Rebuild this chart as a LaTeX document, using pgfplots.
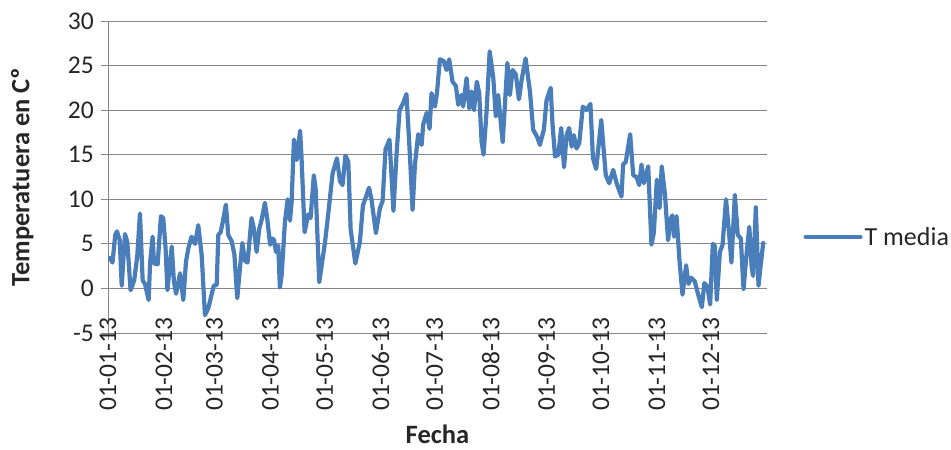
\documentclass[border=0pt]{standalone}
\usepackage{fontspec}
\setmainfont{Carlito}
\usepackage{pgfplots}
\pgfplotsset{compat=1.18}
\definecolor{serie}{RGB}{74,126,187}
\definecolor{rejilla}{RGB}{134,134,134}
\begin{document}
\begin{tikzpicture}
\path[use as bounding box] (0,0) rectangle (951pt,450pt);
\begin{axis}[
  at={(108pt,117pt)}, anchor=south west,
  scale only axis, width=659pt, height=312pt,
  xmin=0, xmax=365, ymin=-5, ymax=30,
  axis lines*=left,
  axis line style={rejilla, line width=1pt},
  ytick={-5,0,5,10,15,20,25,30},
  yticklabels={-5,0,5,10,15,20,25,30},
  xtick={0,31,59,90,120,151,181,212,243,273,304,334},
  xticklabels={01-01-13,01-02-13,01-03-13,01-04-13,01-05-13,01-06-13,01-07-13,01-08-13,01-09-13,01-10-13,01-11-13,01-12-13},
  ymajorgrids, grid style={rejilla, line width=1pt},
  tick align=outside, major tick length=7pt,
  tick style={rejilla, line width=1pt},
  tick label style={font=\fontsize{25.5}{30}\selectfont, text=black!85},
  xticklabel style={rotate=90, anchor=east, inner sep=0pt, xshift=1.5pt},
  xticklabel shift={-21pt},
  yticklabel style={inner sep=0pt},
  yticklabel shift={7pt},
  xlabel={Fecha}, ylabel={Temperatuera en Cº},
  label style={font=\bfseries\fontsize{26.5}{30}\selectfont, text=black!85},
  xlabel style={at={(axis description cs:0.5,-0.325)}, anchor=center},
  ylabel style={at={(axis description cs:-0.130,0.5)}, anchor=center},
  legend style={at={(axis description cs:1.055,0.308)}, anchor=west, draw=none, fill=none,
    font=\fontsize{26}{30}\selectfont, text=black!85, inner sep=0pt},
  legend image code/.code={\draw[#1, line width=4.2pt] (0pt,0pt) -- (55pt,0pt);},
]
\addplot[serie, line width=4.2pt, line join=round, line cap=round] coordinates {
(1,3.4) (2.5,2.9) (4,6.0) (5,6.4) (6.5,5.4) (7.6,0.3) (9.4,6.1) (10.7,5.2) (12.5,-0.2)
(14.5,0.9) (16.2,3.6) (17.7,8.4) (19.2,0.9) (20.5,0.5) (22.5,-1.3) (23.3,2.8) (24.7,5.8)
(25.5,2.8) (27.5,2.7) (29.3,8.1) (30.6,7.9) (31.9,4.5) (32.9,-0.2) (35.3,4.7) (36.5,0.8)
(37.7,-0.6) (39.9,1.7) (41.7,-1.3) (43.2,3.0) (44.5,4.5) (46.3,5.8) (48.2,5.0) (50.0,7.1)
(51.9,3.7) (53.7,-3.0) (55.6,-2.2) (57.6,-0.5) (58.6,0.3) (60.2,0.4) (61.1,6.0) (62.4,6.3)
(63.5,7.4) (65.3,9.4) (66.6,6.0) (68.5,5.3) (70.0,3.8) (71.6,-1.1) (73.1,2.3) (74.4,5.1)
(75.9,3.1) (77.3,2.9) (79.5,7.9) (80.8,6.7) (82.3,4.1) (83.8,6.7) (85.1,7.7) (86.9,9.6)
(88.2,7.8) (89.8,4.9) (91.0,5.6) (92.0,5.4) (93.0,4.1) (94.3,4.8) (95.2,0.1) (96.2,1.5)
(98.0,7.5) (99.5,10.0) (100.8,7.6) (101.7,9.7) (103.0,16.7) (104.5,14.4) (106.4,17.7)
(107.2,14.6) (108.9,6.3) (110.9,8.3) (112.2,7.9) (114.0,12.7) (115.0,11.2) (117.0,0.7)
(120.2,5.2) (122.0,8.4) (124.4,12.9) (126.8,14.6) (128.5,12.0) (129.9,11.6) (131.5,14.9)
(133.1,14.2) (134.4,6.6) (137.0,2.8) (139.5,5.2) (141.2,9.3) (144.6,11.3) (146.0,9.9)
(148.4,6.2) (150.6,9.0) (152.1,9.8) (153.7,15.6) (155.9,16.7) (158.1,8.7) (159.8,15.0)
(161.5,20.0) (163.5,20.8) (165.3,21.8) (167.2,15.0) (168.7,8.8) (170.0,13.9) (171.8,17.3)
(173.7,16.1) (174.6,18.4) (176.5,19.7) (178.1,17.9) (179.2,21.9) (181.1,20.4) (182.3,22.1)
(183.8,25.7) (186.0,25.5) (187.5,24.5) (189.0,25.7) (190.8,23.2) (192.7,22.7) (194.0,20.6)
(195.8,21.7) (196.7,20.4) (198.6,23.6) (200.1,20.2) (201.4,22.1) (202.7,20.0) (204.3,23.2)
(205.6,21.9) (206.9,16.5) (208.0,15.0) (209.7,19.9) (211.4,26.6) (213.4,23.6) (214.8,19.3)
(216.1,21.7) (218.6,16.4) (221.2,25.3) (222.6,21.7) (224.1,24.5) (225.9,24.0) (227.6,21.2)
(229.1,23.4) (231.3,25.8) (233.7,22.1) (235.5,17.8) (237.7,17.0) (239.2,16.1) (241.4,17.8)
(242.9,21.1) (245.2,22.5) (246.2,18.4) (247.6,14.8) (249.4,15.0) (251.0,18.0) (252.6,13.6)
(254.0,17.2) (255.4,18.0) (256.8,15.9) (258.0,17.2) (259.5,15.7) (261.0,16.3) (263.0,20.4)
(265.0,20.0) (267.2,20.7) (268.6,14.6) (270.4,13.4) (273.2,18.9) (275.7,12.7) (277.6,11.8)
(279.8,13.3) (281.7,11.8) (284.4,10.3) (285.3,13.9) (286.8,14.2) (289.2,17.3) (290.9,12.7)
(292.7,12.5) (294.2,11.6) (295.5,13.9) (296.8,11.8) (299.2,13.7) (301.0,4.9) (302.3,6.2)
(304.0,12.2) (305.5,9.0) (306.7,13.7) (308.5,10.5) (310.2,5.4) (311.6,7.8) (312.6,8.2)
(313.5,5.8) (314.9,8.1) (316.5,3.2) (318.2,-0.7) (320.2,2.6) (321.5,0.5) (323.0,1.2)
(325.0,0.8) (326.5,-0.4) (328.9,-2.1) (330.3,0.6) (332.0,0.2) (333.5,-1.8) (335.0,5.0)
(336.0,4.8) (337.2,-1.3) (338.9,4.1) (340.4,4.9) (342.3,10.0) (344.0,6.2) (345.3,2.9)
(347.2,10.5) (348.8,6.0) (350.5,5.6) (352.0,-0.1) (353.6,3.7) (355.2,6.9) (356.5,2.4)
(357.3,1.4) (358.8,9.1) (360.3,0.3) (361.5,2.6) (362.9,5.1)
};
\addlegendentry{T media}
\end{axis}
\end{tikzpicture}
\end{document}
